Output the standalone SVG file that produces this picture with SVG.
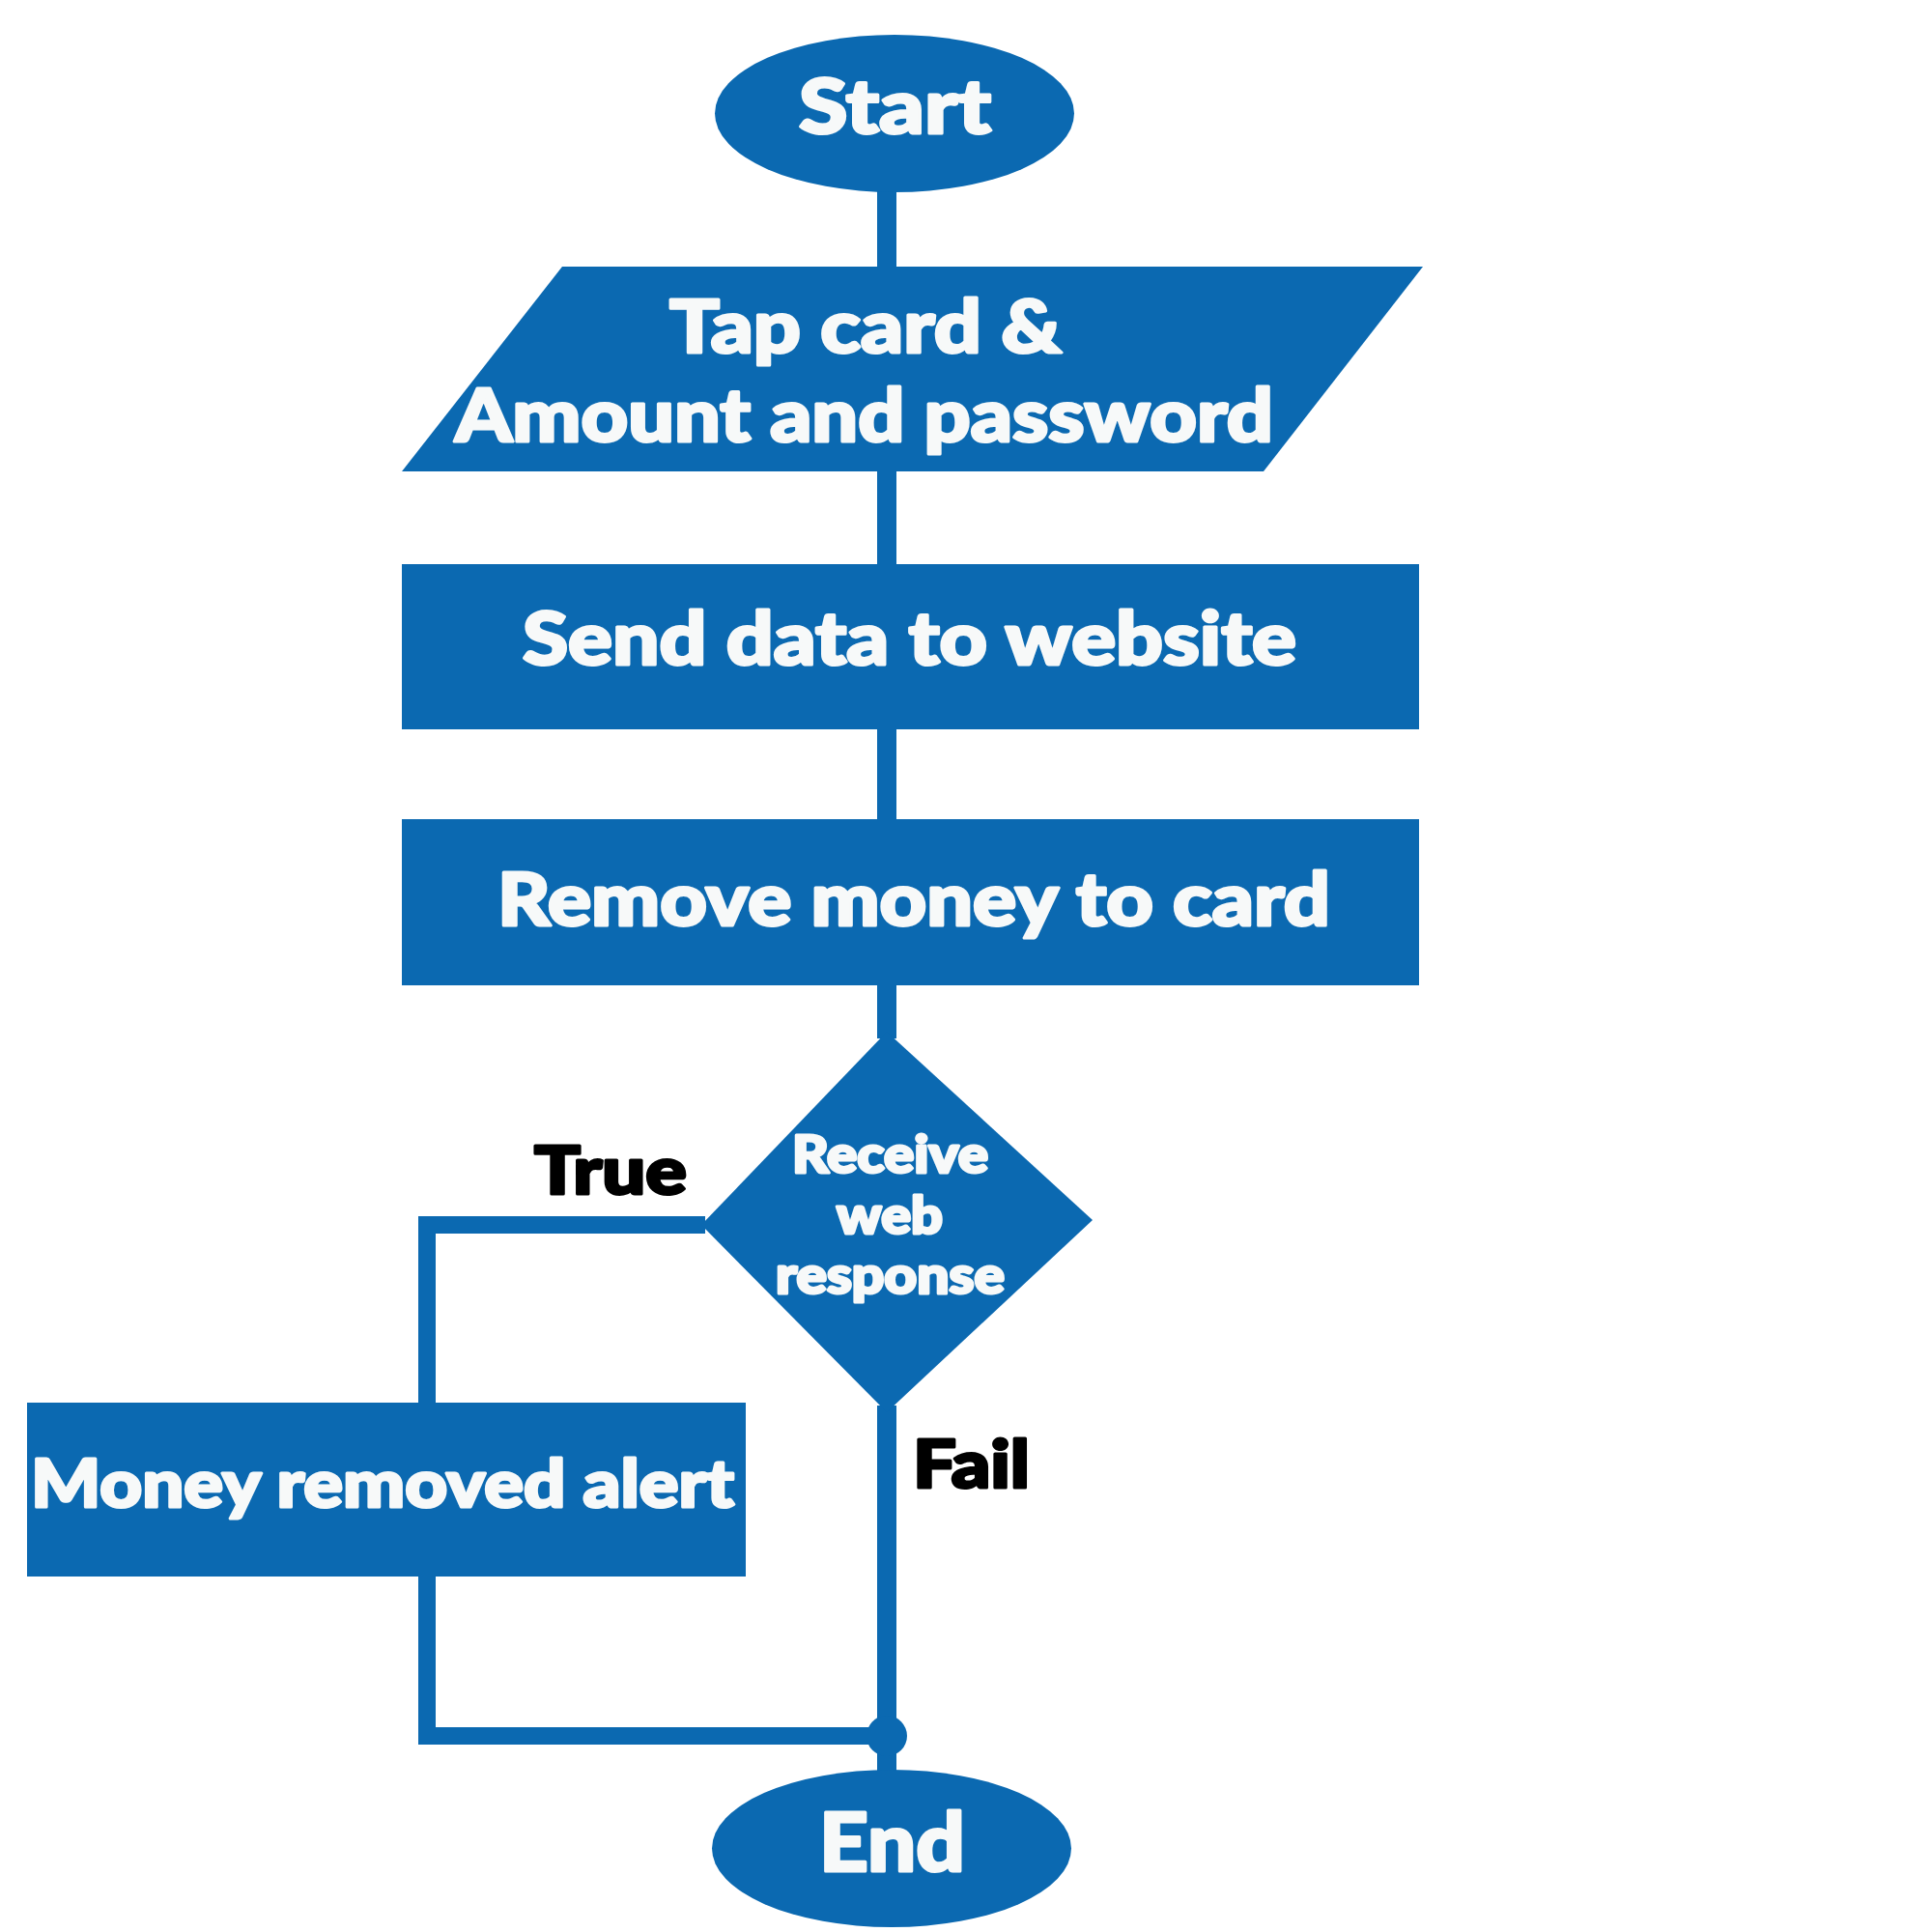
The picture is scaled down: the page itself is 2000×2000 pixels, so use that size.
<svg xmlns="http://www.w3.org/2000/svg" width="2000" height="2000" viewBox="0 0 2000 2000">
<style>
.shape{fill:#0B69B1;stroke:none}
.conn{fill:none;stroke:#0B69B1;stroke-width:20;stroke-linejoin:miter;stroke-linecap:butt}
.connh{fill:none;stroke:#0B69B1;stroke-width:18;stroke-linejoin:miter;stroke-linecap:butt}
.t{font-family:Lato,"Open Sans","Liberation Sans",sans-serif;font-weight:900;fill:#F7F9F9;stroke:#F7F9F9;stroke-width:3;stroke-linejoin:round}
.lbl{font-family:Lato,"Open Sans","Liberation Sans",sans-serif;font-weight:900;fill:#000000;stroke:#000000;stroke-width:3;stroke-linejoin:round}
</style>
<rect width="2000" height="2000" fill="#FFFFFF"/>
<g id="connectors">
<line class="conn" x1="918" y1="190" x2="918" y2="280"/>
<line class="conn" x1="918" y1="480" x2="918" y2="590"/>
<line class="conn" x1="918" y1="750" x2="918" y2="852"/>
<line class="conn" x1="918" y1="1015" x2="918" y2="1075"/>
<line class="conn" x1="918" y1="1455" x2="918" y2="1840"/>
<polyline class="connh" points="730,1268 442,1268 442,1456"/>
<polyline class="connh" points="442,1628 442,1797 918,1797"/>
<circle class="shape" cx="918" cy="1797" r="21"/>
</g>
<g id="start">
<ellipse class="shape" cx="926" cy="117.5" rx="186" ry="81.5"/>
<text class="t" x="827" y="138" font-size="79" textLength="199" lengthAdjust="spacingAndGlyphs">Start</text>
</g>
<g id="input">
<polygon class="shape" points="582,276 1473,276 1308,488 416,488"/>
<text class="t" x="693" y="365" font-size="76" textLength="406" lengthAdjust="spacingAndGlyphs">Tap card &amp;</text>
<text class="t" x="471" y="457" font-size="76" textLength="847" lengthAdjust="spacingAndGlyphs">Amount and password</text>
</g>
<g id="send">
<rect class="shape" x="416" y="584" width="1053" height="171"/>
<text class="t" x="541" y="688" font-size="76" textLength="801" lengthAdjust="spacingAndGlyphs">Send data to website</text>
</g>
<g id="remove">
<rect class="shape" x="416" y="848" width="1053" height="172"/>
<text class="t" x="515" y="958" font-size="76" textLength="862" lengthAdjust="spacingAndGlyphs">Remove money to card</text>
</g>
<g id="decision">
<polygon class="shape" points="918,1068 1131,1263 918,1462 726,1268"/>
<text class="t" x="820" y="1214" font-size="53" textLength="203" lengthAdjust="spacingAndGlyphs">Receive</text>
<text class="t" x="866" y="1277" font-size="53" textLength="110" lengthAdjust="spacingAndGlyphs">web</text>
<text class="t" x="803" y="1339" font-size="53" textLength="237" lengthAdjust="spacingAndGlyphs">response</text>
</g>
<g id="alert">
<rect class="shape" x="28" y="1452" width="744" height="180"/>
<text class="t" x="32" y="1560" font-size="69" textLength="728" lengthAdjust="spacingAndGlyphs">Money removed alert</text>
</g>
<g id="end">
<ellipse class="shape" cx="923" cy="1913.5" rx="186" ry="81.5"/>
<text class="t" x="848" y="1937" font-size="83" textLength="151" lengthAdjust="spacingAndGlyphs">End</text>
</g>
<g id="labels">
<text class="lbl" x="553" y="1236" font-size="68" textLength="158" lengthAdjust="spacingAndGlyphs">True</text>
<text class="lbl" x="945" y="1540" font-size="69" textLength="121" lengthAdjust="spacingAndGlyphs">Fail</text>
</g>
</svg>
